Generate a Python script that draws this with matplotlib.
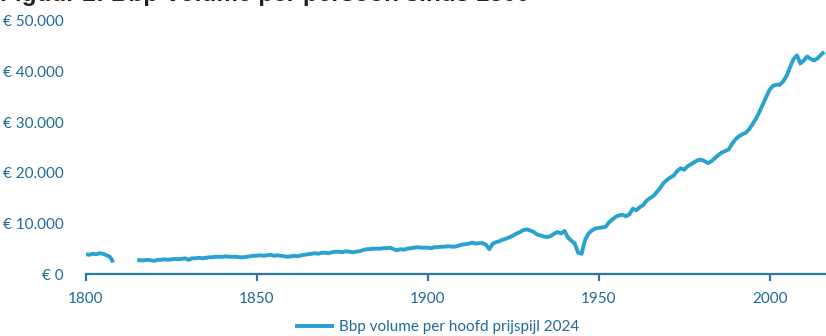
import numpy as np
import matplotlib.pyplot as plt

# Bbp-volume per hoofd (prijspeil 2024), in euro's
jaren = list(range(1800, 2017))

waarden_1800 = [3.9, 3.8, 4.0, 3.9, 4.1, 4.0, 3.7, 3.4, 2.3]
ontbrekend = [None] * 6  # 1809-1814: geen gegevens
waarden_1815 = [
    2.8, 2.7, 2.7, 2.8, 2.7, 2.6, 2.8, 2.8, 2.9, 2.8,
    2.9, 3.0, 2.9, 3.0, 3.1, 2.8, 3.1, 3.1, 3.2, 3.1,
    3.2, 3.3, 3.3, 3.4, 3.4, 3.4, 3.5, 3.4, 3.4, 3.4,
    3.3, 3.3, 3.4, 3.5, 3.6, 3.6, 3.7, 3.6, 3.7, 3.8,
    3.6, 3.7, 3.6, 3.5, 3.4, 3.5, 3.6, 3.5, 3.7, 3.8,
    3.9, 4.0, 4.1, 4.0, 4.2, 4.2, 4.1, 4.3, 4.4, 4.4,
    4.3, 4.5, 4.4, 4.3, 4.4, 4.5, 4.7, 4.9, 4.9, 5.0,
    5.0, 5.0, 5.1, 5.1, 5.2, 4.9, 4.7, 4.9, 4.8, 5.0,
    5.1, 5.2, 5.3, 5.2, 5.2, 5.2, 5.1, 5.3, 5.3, 5.4,
    5.4, 5.5, 5.4, 5.4, 5.6, 5.8, 5.9, 6.0, 6.2, 6.0,
    6.1, 6.1, 5.8, 4.9, 6.0, 6.3, 6.5, 6.8, 7.0, 7.3,
    7.6, 8.0, 8.3, 8.7, 8.8, 8.6, 8.3, 7.8, 7.6, 7.4,
    7.3, 7.5, 8.0, 8.3, 8.0, 8.5, 7.2, 6.6, 6.0, 4.2,
    4.0, 6.7, 8.0, 8.6, 9.0, 9.1, 9.2, 9.3, 10.2, 10.8,
    11.3, 11.6, 11.7, 11.4, 11.8, 12.9, 12.6, 13.2, 13.6, 14.5,
    15.0, 15.4, 16.2, 17.0, 18.0, 18.6, 19.1, 19.5, 20.4, 20.9,
    20.6, 21.3, 21.7, 22.1, 22.5, 22.6, 22.3, 21.9, 22.3, 22.9,
    23.5, 24.0, 24.3, 24.6, 25.7, 26.6, 27.2, 27.6, 27.9, 28.6,
    29.6, 30.7, 32.0, 33.5, 35.0, 36.4, 37.2, 37.4, 37.4, 38.1,
    39.2, 40.9, 42.5, 43.2, 41.6, 42.2, 43.0, 42.5, 42.2, 42.6,
    43.3, 43.9,
]
waarden = waarden_1800 + ontbrekend + waarden_1815
bbp = np.array([np.nan if w is None else w * 1000 for w in waarden])

y_ticks = [0, 10000, 20000, 30000, 40000, 50000]
y_labels = ['€ 0', '€ 10.000', '€ 20.000', '€ 30.000', '€ 40.000', '€ 50.000']
x_ticks = [1800, 1850, 1900, 1950, 2000]

lijnkleur = '#29a1d1'
askleur = '#2e78a6'
tekstkleur = '#1f6a96'

plt.rcParams['font.family'] = ['Lato', 'DejaVu Sans']

fig = plt.figure(figsize=(8.26, 3.36), dpi=100)
ax = fig.add_axes([86 / 826, 1 - 274 / 336, 1 - 86 / 826, (274 - 21) / 336])

ax.plot(jaren, bbp, color=lijnkleur, lw=2.8, solid_capstyle='butt',
        label='Bbp volume per hoofd prijspijl 2024')

ax.set_xlim(1800, 2016.5)
ax.set_ylim(0, 50000)
ax.set_xticks(x_ticks)
ax.set_yticks(y_ticks)
ax.set_yticklabels(y_labels)

for kant in ['top', 'right', 'left']:
    ax.spines[kant].set_visible(False)
ax.spines['bottom'].set_color(askleur)
ax.spines['bottom'].set_linewidth(1.6)
ax.tick_params(axis='x', colors=askleur, length=5, width=1.6, labelcolor=tekstkleur,
               labelsize=11, pad=8)
ax.tick_params(axis='y', length=0, labelcolor=tekstkleur, labelsize=11, pad=16)

fig.text(0.0, 1 - 1 / 336, 'Figuur 2: Bbp-volume per persoon sinds 1800',
         fontsize=17.5, fontweight='bold', family=['Liberation Sans', 'DejaVu Sans'],
         va='baseline', ha='left', color='#222222')

fig.legend(loc='center', bbox_to_anchor=(437 / 826, 1 - 327 / 336), frameon=False,
           fontsize=11, labelcolor=tekstkleur, handlelength=2.6, handletextpad=0.3)

fig.savefig('out.png', dpi=100)
